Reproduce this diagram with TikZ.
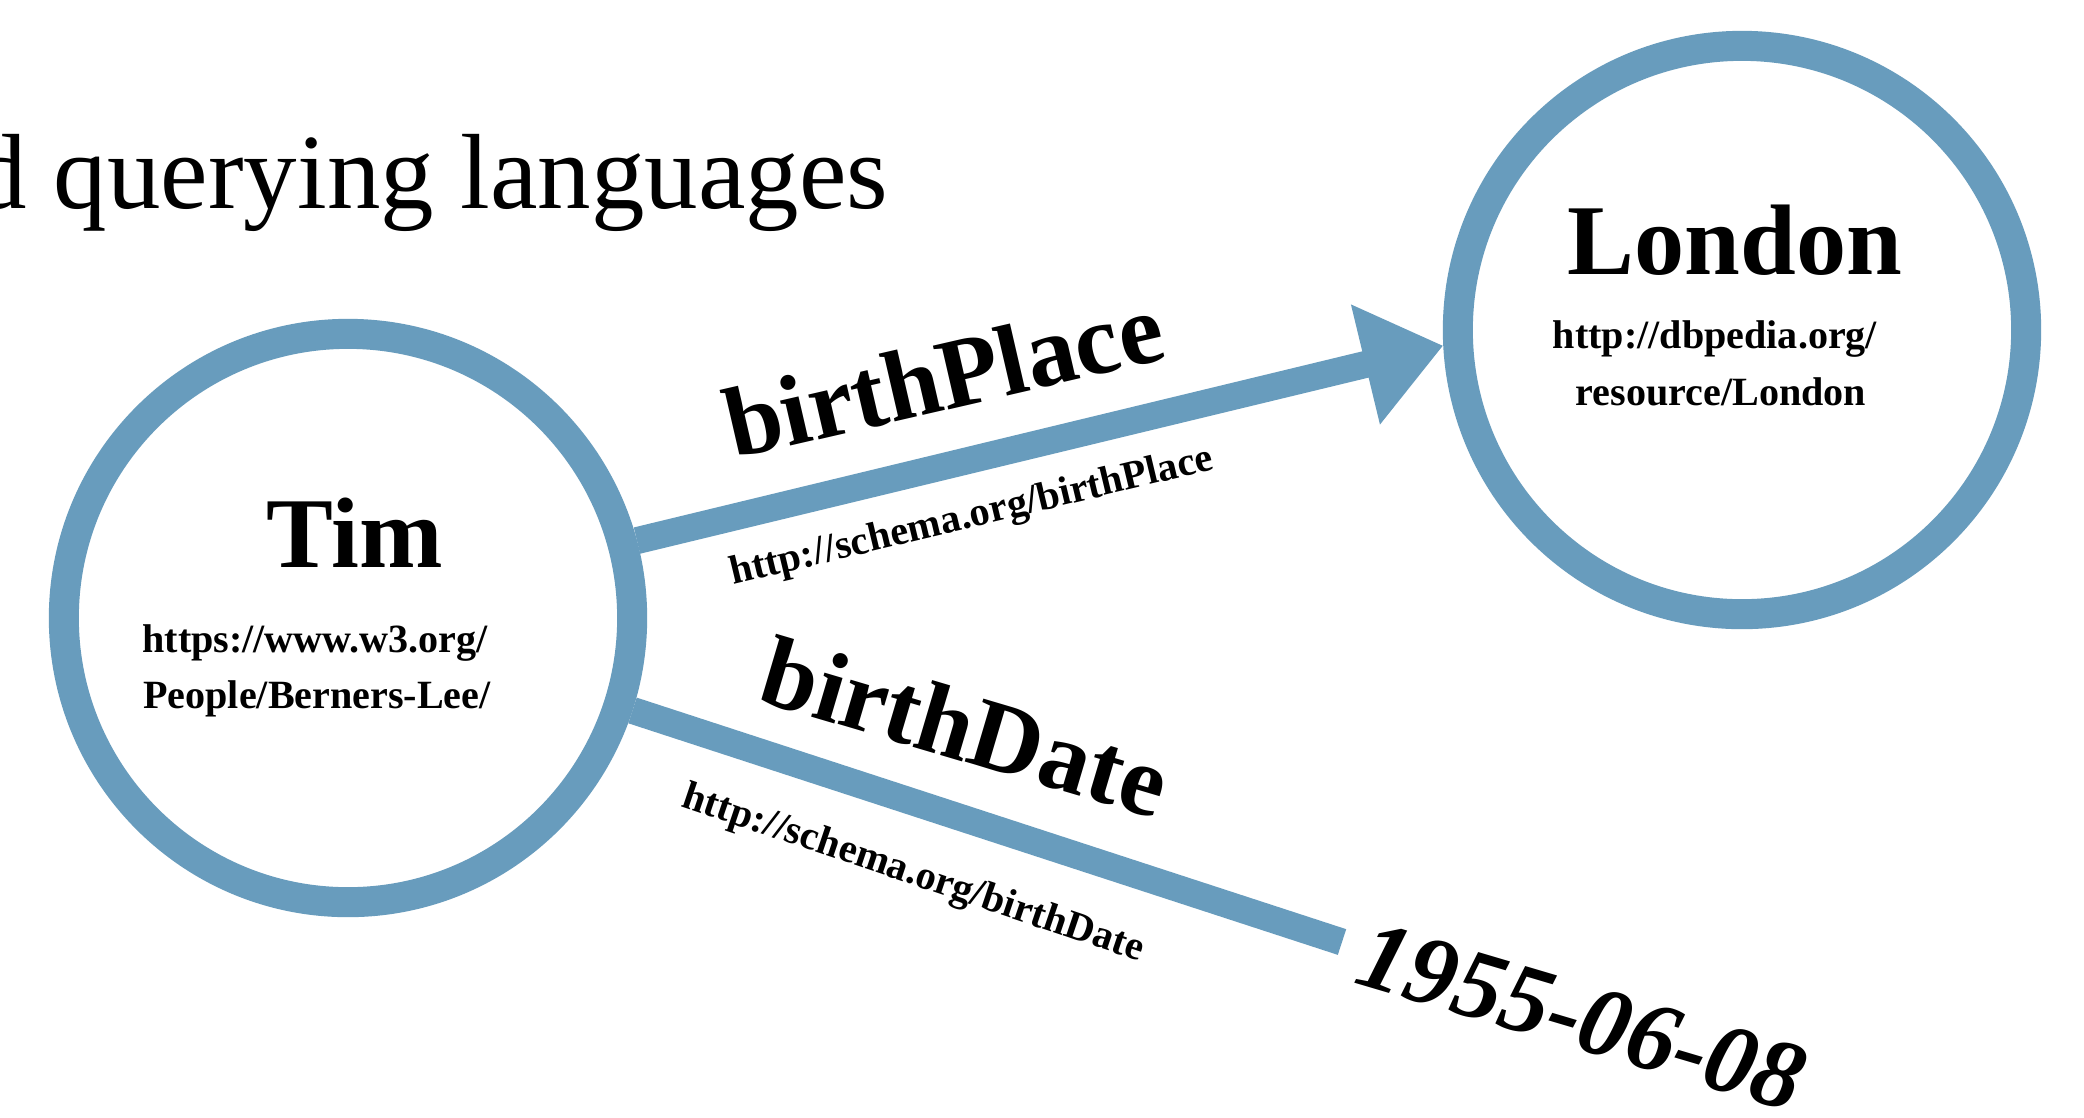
\documentclass[tikz,border=0pt]{standalone}
\usepackage{fontspec}
\setmainfont{Liberation Serif}
\usetikzlibrary{arrows.meta}
\definecolor{linkblue}{RGB}{104,156,189}
\begin{document}
\begin{tikzpicture}[x=0.01cm,y=-0.01cm,
  entity/.style={circle, draw=linkblue, line width=0.3cm, minimum size=5.68cm, inner sep=0pt},
  bigname/.style={font=\fontsize{28.5}{34}\selectfont\bfseries, inner sep=0pt, anchor=base},
  uri/.style={font=\fontsize{11.4}{14}\selectfont\bfseries, inner sep=0pt, anchor=base},
  predicate/.style={font=\fontsize{28.5}{34}\selectfont\bfseries, inner sep=0pt, anchor=base west},
  preduri/.style={font=\fontsize{11.5}{14}\selectfont\bfseries, inner sep=0pt, anchor=base west},
  link/.style={draw=linkblue, line width=0.27cm},
]
\useasboundingbox (0,0) rectangle (2084,1117);
\fill[white] (0,0) rectangle (2084,1117);

\node[font=\fontsize{30.4}{36}\selectfont, inner sep=0pt, anchor=base west] (title) at (-27,208) {d querying languages};

\node[entity] (tim) at (348,618) {};
\node[entity] (london) at (1742,330) {};
\node[bigname] (timname) at (355,567) {Tim};
\node[uri] (timuri1) at (315,652) {https://www.w3.org/};
\node[uri] (timuri2) at (317,708) {People/Berners-Lee/};
\node[bigname] (londonname) at (1735,274) {London};
\node[uri] (londonuri1) at (1715,348) {http://dbpedia.org/};
\node[uri] (londonuri2) at (1721,405) {resource/London};

\draw[link, -{Triangle[length=0.8cm,width=1.18cm]}] (tim.15.7) -- (london.183.9);
\coordinate (dateend) at (1342,942);
\draw[link] (tim.-18) -- (dateend);

\node[predicate, rotate=13] (bp) at (734,459) {birthPlace};
\node[preduri, rotate=13.5] (bpuri) at (733,585) {http://schema.org/birthPlace};
\node[predicate, rotate=-16.5] (bd) at (755,700) {birthDate};
\node[preduri, rotate=-18.7] (bduri) at (680,806) {http://schema.org/birthDate};
\node[font=\fontsize{28}{34}\selectfont\bfseries\itshape, inner sep=0pt, anchor=base west, rotate=-16.5] (date) at (1352,982) {1955-06-08};
\end{tikzpicture}
\end{document}
